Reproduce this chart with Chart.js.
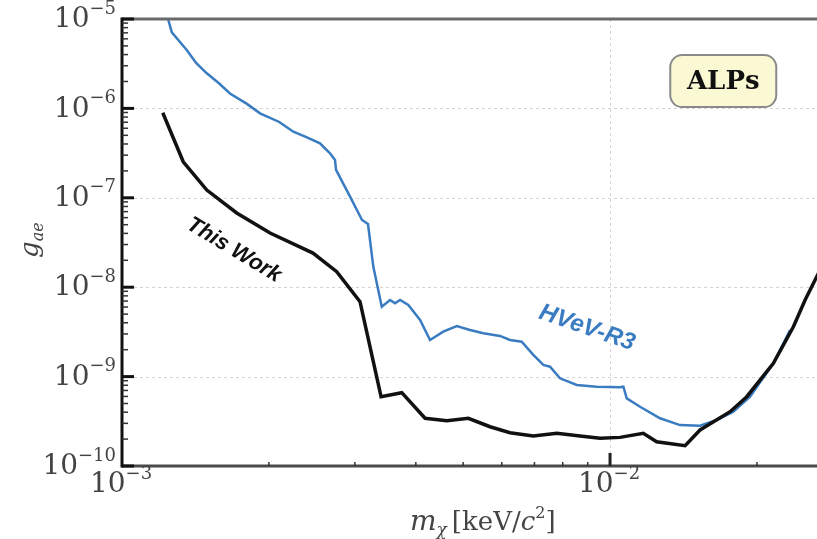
<!DOCTYPE html>
<html lang="en">
<head>
  <meta charset="UTF-8">
  <title>ALPs limits</title>
  <script src="https://cdn.jsdelivr.net/npm/chart.js"></script>
  <style>
    html, body { margin: 0; padding: 0; background: #fff; }
    #wrap { width: 817px; height: 539px; }
  </style>
</head>
<body>
<div id="wrap"><canvas id="alpChart" width="817" height="539"></canvas></div>
<script>
// mass (keV/c^2) and coupling values
const thisWorkMass = [1.212e-3, 1.335e-3, 1.492e-3, 1.718e-3, 2.011e-3, 2.462e-3, 2.754e-3, 3.074e-3,
  3.395e-3, 3.743e-3, 4.178e-3, 4.63e-3, 5.124e-3, 5.677e-3, 6.237e-3, 6.963e-3, 7.779e-3, 8.68e-3,
  9.54e-3, 1.048e-2, 1.17e-2, 1.246e-2, 1.425e-2, 1.529e-2, 1.762e-2, 1.906e-2, 2.161e-2, 2.375e-2,
  2.51e-2, 2.694e-2];
const thisWorkG = [8.95e-7, 2.53e-7, 1.22e-7, 6.76e-8, 4.04e-8, 2.41e-8, 1.49e-8, 6.89e-9,
  5.96e-10, 6.61e-10, 3.42e-10, 3.21e-10, 3.42e-10, 2.75e-10, 2.36e-10, 2.17e-10, 2.32e-10, 2.17e-10,
  2.04e-10, 2.09e-10, 2.32e-10, 1.87e-10, 1.69e-10, 2.53e-10, 4.05e-10, 5.96e-10, 1.41e-9, 3.61e-9,
  7.19e-9, 1.56e-8];

const hvevMass = [1.231e-3, 1.265e-3, 1.357e-3, 1.42e-3, 1.492e-3, 1.582e-3, 1.664e-3, 1.8e-3, 1.918e-3,
  2.1e-3, 2.244e-3, 2.38e-3, 2.545e-3, 2.668e-3,
  2.732e-3, 2.745e-3, 2.933e-3, 3.103e-3, 3.192e-3, 3.273e-3, 3.406e-3, 3.542e-3, 3.626e-3, 3.713e-3,
  3.861e-3, 4.081e-3, 4.277e-3, 4.553e-3, 4.852e-3, 5.166e-3, 5.5e-3, 5.951e-3, 6.237e-3, 6.592e-3,
  6.963e-3, 7.3e-3, 7.534e-3, 7.898e-3, 8.546e-3, 9.39e-3, 1.048e-2, 1.065e-2, 1.082e-2, 1.152e-2,
  1.266e-2, 1.391e-2, 1.529e-2, 1.654e-2, 1.789e-2, 1.936e-2, 2.161e-2, 2.338e-2];
const hvevG = [1.2e-5, 7.1e-6, 4.5e-6, 3.2e-6, 2.47e-6, 1.9e-6, 1.47e-6, 1.13e-6, 8.81e-7,
  7.05e-7, 5.49e-7, 4.8e-7, 4.07e-7, 3.15e-7,
  2.65e-7, 2.05e-7, 1.03e-7, 5.65e-8, 5.09e-8, 1.7e-8, 6.05e-9, 7.19e-9, 6.61e-9, 7.19e-9,
  6.32e-9, 4.3e-9, 2.57e-9, 3.18e-9, 3.68e-9, 3.32e-9, 3.05e-9, 2.85e-9, 2.57e-9, 2.46e-9,
  1.75e-9, 1.35e-9, 1.29e-9, 9.57e-10, 8.05e-10, 7.71e-10, 7.59e-10, 7.71e-10, 5.71e-10, 4.6e-10,
  3.42e-10, 2.87e-10, 2.82e-10, 3.27e-10, 4.05e-10, 5.96e-10, 1.41e-9, 3.32e-9];

const xDecades = [-3, -2];
const yDecades = [-5, -6, -7, -8, -9, -10];

const SERIF = '"DejaVu Serif", "Liberation Serif", serif';
const BLUE = "#3a7cc2";

function toPoints(xs, ys) {
  return xs.map((x, i) => ({ x: x, y: ys[i] }));
}

// "10" with a raised exponent; align = 'right' or 'center'
function drawPow(ctx, exp, x, y, align) {
  const base = "10", sup = "\u2212" + Math.abs(exp);
  ctx.font = "28px " + SERIF;
  const wb = ctx.measureText(base).width;
  ctx.font = "18px " + SERIF;
  const ws = ctx.measureText(sup).width;
  let left = align === "right" ? x - wb - ws : x - (wb + ws) / 2;
  ctx.textAlign = "left";
  ctx.textBaseline = "middle";
  ctx.font = "28px " + SERIF;
  ctx.fillText(base, left, y);
  ctx.font = "18px " + SERIF;
  ctx.fillText(sup, left + wb, y - 11);
}

const decor = {
  id: "decor",
  beforeDatasetsDraw(chart) {
    const ctx = chart.ctx, a = chart.chartArea;
    const xs = chart.scales.x, ys = chart.scales.y;
    ctx.save();
    ctx.strokeStyle = "#d4d4d4";
    ctx.lineWidth = 1;
    ctx.setLineDash([3, 3]);
    yDecades.forEach(e => {
      if (e === -5 || e === -10) return;
      const py = Math.round(ys.getPixelForValue(Math.pow(10, e))) + 0.5;
      ctx.beginPath(); ctx.moveTo(a.left, py); ctx.lineTo(a.right, py); ctx.stroke();
    });
    const px = Math.round(xs.getPixelForValue(1e-2)) + 0.5;
    ctx.beginPath(); ctx.moveTo(px, a.top); ctx.lineTo(px, a.bottom); ctx.stroke();
    ctx.restore();
  },
  afterDraw(chart) {
    const ctx = chart.ctx, a = chart.chartArea;
    const xs = chart.scales.x, ys = chart.scales.y;
    ctx.save();

    // frame
    ctx.strokeStyle = "#6a6a6a";
    ctx.lineWidth = 3;
    ctx.beginPath(); ctx.moveTo(a.left, a.top); ctx.lineTo(a.right, a.top); ctx.stroke();
    ctx.strokeStyle = "#4a4a4a";
    ctx.beginPath(); ctx.moveTo(a.left, a.bottom); ctx.lineTo(a.right, a.bottom); ctx.stroke();
    ctx.strokeStyle = "#111";
    ctx.beginPath(); ctx.moveTo(a.left, a.top - 1.5); ctx.lineTo(a.left, a.bottom + 1.5); ctx.stroke();

    // y ticks
    for (let e = -10; e <= -5; e++) {
      const py = ys.getPixelForValue(Math.pow(10, e));
      ctx.strokeStyle = "#111"; ctx.lineWidth = 3;
      ctx.beginPath(); ctx.moveTo(a.left, py); ctx.lineTo(a.left + 12, py); ctx.stroke();
      if (e < -5) {
        for (let m = 2; m <= 9; m++) {
          const pm = ys.getPixelForValue(m * Math.pow(10, e));
          ctx.strokeStyle = "#333"; ctx.lineWidth = 1.5;
          ctx.beginPath(); ctx.moveTo(a.left, pm); ctx.lineTo(a.left + 6, pm); ctx.stroke();
        }
      }
    }
    // x ticks
    for (let e = -3; e <= -2; e++) {
      for (let m = 2; m <= 9; m++) {
        const v = m * Math.pow(10, e);
        if (v > xs.max) continue;
        const pm = xs.getPixelForValue(v);
        ctx.strokeStyle = "#333"; ctx.lineWidth = 1.5;
        ctx.beginPath(); ctx.moveTo(pm, a.bottom); ctx.lineTo(pm, a.bottom - 4); ctx.stroke();
      }
    }
    const p2 = xs.getPixelForValue(1e-2);
    ctx.strokeStyle = "#222"; ctx.lineWidth = 3;
    ctx.beginPath(); ctx.moveTo(p2, a.bottom); ctx.lineTo(p2, a.bottom - 13); ctx.stroke();

    // tick labels
    ctx.fillStyle = "#444";
    yDecades.forEach(e => {
      drawPow(ctx, e, 116, ys.getPixelForValue(Math.pow(10, e)) + 1, "right");
    });
    xDecades.forEach(e => {
      drawPow(ctx, e, xs.getPixelForValue(Math.pow(10, e)) - 1, 485, "center");
    });

    // axis titles
    ctx.textBaseline = "alphabetic";
    ctx.textAlign = "left";
    let tx = 410, ty = 530;
    ctx.font = "italic 28px " + SERIF;
    ctx.fillText("m", tx, ty); tx += ctx.measureText("m").width;
    ctx.font = "italic 17px " + SERIF;
    ctx.fillText("\u03c7", tx, ty + 5); tx += ctx.measureText("\u03c7").width + 5;
    ctx.font = "26px " + SERIF;
    ctx.fillText("[keV/", tx, ty); tx += ctx.measureText("[keV/").width;
    ctx.font = "italic 26px " + SERIF;
    ctx.fillText("c", tx, ty); tx += ctx.measureText("c").width;
    ctx.font = "16px " + SERIF;
    ctx.fillText("2", tx, ty - 12); tx += ctx.measureText("2").width;
    ctx.font = "26px " + SERIF;
    ctx.fillText("]", tx, ty);

    ctx.save();
    ctx.translate(38, 258);
    ctx.rotate(-Math.PI / 2);
    ctx.font = "italic 26px " + SERIF;
    ctx.fillText("g", 0, 0);
    const wg = ctx.measureText("g").width;
    ctx.font = "italic 16px " + SERIF;
    ctx.fillText("ae", wg, 5);
    ctx.restore();

    // curve labels
    ctx.textAlign = "center";
    ctx.textBaseline = "middle";
    ctx.save();
    ctx.translate(xs.getPixelForValue(1.696e-3), ys.getPixelForValue(2.6e-8));
    ctx.rotate(31 * Math.PI / 180);
    ctx.font = 'italic bold 22px "Liberation Sans", Arial, sans-serif';
    ctx.fillStyle = "#111";
    ctx.fillText("This Work", 0, 0);
    ctx.restore();

    ctx.save();
    ctx.translate(xs.getPixelForValue(8.97e-3), ys.getPixelForValue(3.5e-9));
    ctx.rotate(19 * Math.PI / 180);
    ctx.font = 'italic bold 24px "Liberation Sans", Arial, sans-serif';
    ctx.fillStyle = BLUE;
    ctx.fillText("HVeV-R3", 0, 0);
    ctx.restore();

    // ALPs box
    const bx = xs.getPixelForValue(1.706e-2), by = ys.getPixelForValue(2.02e-6);
    const bw = 106, bh = 52;
    ctx.beginPath();
    ctx.roundRect(bx - bw / 2, by - bh / 2, bw, bh, 12);
    ctx.fillStyle = "#fbf9d3";
    ctx.fill();
    ctx.strokeStyle = "#8a8a8a";
    ctx.lineWidth = 2;
    ctx.stroke();
    ctx.fillStyle = "#111";
    ctx.font = "bold 26px " + SERIF;
    ctx.fillText("ALPs", bx, by + 1);

    ctx.restore();
  }
};

new Chart(document.getElementById("alpChart"), {
  type: "line",
  data: {
    datasets: [
      {
        label: "This Work",
        data: toPoints(thisWorkMass, thisWorkG),
        borderColor: "#111",
        borderWidth: 3.5,
        pointRadius: 0,
        tension: 0
      },
      {
        label: "HVeV-R3",
        data: toPoints(hvevMass, hvevG),
        borderColor: BLUE,
        borderWidth: 2.5,
        pointRadius: 0,
        tension: 0
      }
    ]
  },
  options: {
    responsive: false,
    animation: false,
    layout: { padding: { left: 122, top: 19, right: 0, bottom: 73 } },
    plugins: { legend: { display: false }, tooltip: { enabled: false } },
    scales: {
      x: { type: "logarithmic", min: 1e-3, max: 0.02655, display: false },
      y: { type: "logarithmic", min: 1e-10, max: 1e-5, display: false }
    }
  },
  plugins: [decor]
});
</script>
</body>
</html>
